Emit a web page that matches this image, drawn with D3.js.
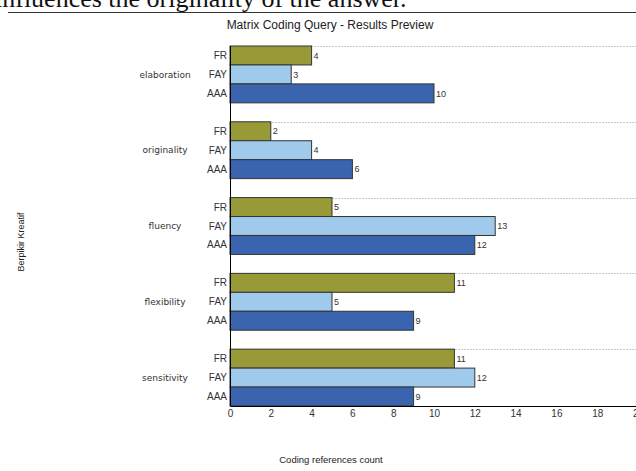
<!DOCTYPE html>
<html>
<head>
<meta charset="utf-8">
<script src="https://cdn.jsdelivr.net/npm/d3@7"></script>
<style>
body { margin: 0; background: #fff; }
svg { display: block; }
</style>
</head>
<body>
<div id="chart"></div>
<script>
var categories = ['elaboration', 'originality', 'fluency', 'flexibility', 'sensitivity'];
var series = ['FR', 'FAY', 'AAA'];
var valuesFR = [4, 2, 5, 11, 11];
var valuesFAY = [3, 4, 13, 5, 12];
var valuesAAA = [10, 6, 12, 9, 9];
var xTicks = [0, 2, 4, 6, 8, 10, 12, 14, 16, 18, 20];

var seriesValues = { FR: valuesFR, FAY: valuesFAY, AAA: valuesAAA };
var color = d3.scaleOrdinal()
	.domain(series)
	.range(['#989A37', '#9FCAEB', '#3B64AF']);

var svg = d3.select('#chart').append('svg').attr('width', 636).attr('height', 471);

// cropped caption text from page above the chart
svg.append('text')
	.attr('x', -5)
	.attr('y', 7)
	.attr('font-family', 'Liberation Serif, serif')
	.attr('font-size', 26)
	.attr('fill', '#111')
	.text('influences the originality of the answer.');

svg.append('line')
	.attr('x1', 8).attr('x2', 636)
	.attr('y1', 12.5).attr('y2', 12.5)
	.attr('stroke', '#333').attr('stroke-width', 1);

svg.append('text')
	.attr('x', 330)
	.attr('y', 29)
	.attr('text-anchor', 'middle')
	.attr('font-family', 'Liberation Sans, Arial, sans-serif')
	.attr('font-size', 12)
	.attr('fill', '#222')
	.text('Matrix Coding Query - Results Preview');

var plotLeft = 230, plotTop = 46, plotBottom = 406;
var slot = (plotBottom - plotTop) / 19;

var xScale = d3.scaleLinear()
	.domain([0, 20])
	.range([plotLeft, plotLeft + 408]);

var yGroup = d3.scaleBand()
	.domain(categories)
	.range([plotTop, plotTop + 5 * 4 * slot]);

var ySeries = d3.scaleBand()
	.domain(series)
	.range([0, 3 * slot]);

// dotted separators at the top of each group
svg.append('g')
	.selectAll('line')
	.data(categories)
	.enter()
	.append('line')
	.attr('x1', plotLeft)
	.attr('x2', 636)
	.attr('y1', function(d) { return Math.round(yGroup(d)) + 0.5; })
	.attr('y2', function(d) { return Math.round(yGroup(d)) + 0.5; })
	.attr('stroke', '#c8c8c8')
	.attr('stroke-dasharray', '2,1');

var rows = [];
categories.forEach(function(c, i) {
	series.forEach(function(s) {
		rows.push({ cat: c, ser: s, value: seriesValues[s][i] });
	});
});

svg.append('g')
	.selectAll('rect')
	.data(rows)
	.enter()
	.append('rect')
	.attr('x', xScale(0))
	.attr('y', function(d) { return yGroup(d.cat) + ySeries(d.ser); })
	.attr('width', function(d) { return xScale(d.value) - xScale(0); })
	.attr('height', ySeries.bandwidth())
	.attr('fill', function(d) { return color(d.ser); })
	.attr('stroke', '#333')
	.attr('stroke-width', 1);

svg.append('g')
	.selectAll('text')
	.data(rows)
	.enter()
	.append('text')
	.attr('x', function(d) { return xScale(d.value) + 2; })
	.attr('y', function(d) { return yGroup(d.cat) + ySeries(d.ser) + ySeries.bandwidth() / 2; })
	.attr('dy', '0.35em')
	.attr('font-family', 'Liberation Sans, Arial, sans-serif')
	.attr('font-size', 9)
	.attr('fill', '#333')
	.text(function(d) { return d.value; });

// series labels
svg.append('g')
	.selectAll('text')
	.data(rows)
	.enter()
	.append('text')
	.attr('x', plotLeft - 3)
	.attr('y', function(d) { return yGroup(d.cat) + ySeries(d.ser) + ySeries.bandwidth() / 2; })
	.attr('dy', '0.35em')
	.attr('text-anchor', 'end')
	.attr('font-family', 'Liberation Sans, Arial, sans-serif')
	.attr('font-size', 10)
	.attr('fill', '#333')
	.text(function(d) { return d.ser; });

// category labels
svg.append('g')
	.selectAll('text')
	.data(categories)
	.enter()
	.append('text')
	.attr('x', 165)
	.attr('y', function(d) { return yGroup(d) + ySeries('FAY') + ySeries.bandwidth() / 2; })
	.attr('dy', '0.35em')
	.attr('text-anchor', 'middle')
	.attr('font-family', 'DejaVu Sans, sans-serif')
	.attr('font-size', 9)
	.attr('fill', '#333')
	.text(function(d) { return d; });

var xAxis = d3.axisBottom(xScale)
	.tickValues(xTicks)
	.tickSize(0)
	.tickSizeOuter(0)
	.tickPadding(4);

var xAxisG = svg.append('g')
	.attr('transform', 'translate(0,' + plotBottom + ')')
	.call(xAxis);
xAxisG.select('.domain').attr('stroke', '#000');
xAxisG.selectAll('text')
	.attr('font-family', 'Liberation Sans, Arial, sans-serif')
	.attr('font-size', 10)
	.attr('fill', '#333');

svg.append('line')
	.attr('x1', plotLeft + 0.5).attr('x2', plotLeft + 0.5)
	.attr('y1', plotTop).attr('y2', plotBottom)
	.attr('stroke', '#000');

svg.append('text')
	.attr('x', 331)
	.attr('y', 463)
	.attr('text-anchor', 'middle')
	.attr('font-family', 'Liberation Sans, Arial, sans-serif')
	.attr('font-size', 9.5)
	.attr('fill', '#222')
	.text('Coding references count');

svg.append('text')
	.attr('transform', 'translate(24,242) rotate(-90)')
	.attr('text-anchor', 'middle')
	.attr('font-family', 'Liberation Sans, Arial, sans-serif')
	.attr('font-size', 9)
	.attr('fill', '#222')
	.text('Berpikir Kreatif');
</script>
</body>
</html>
